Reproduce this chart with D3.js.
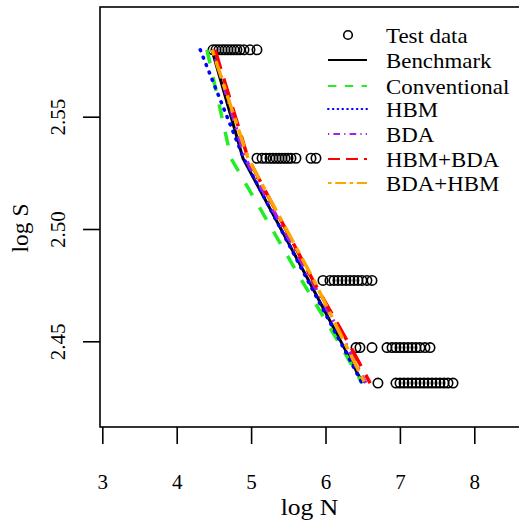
<!DOCTYPE html>
<html lang="en">
<head>
    <meta charset="UTF-8">
    <title>S-N curves</title>
    <script src="https://d3js.org/d3.v7.min.js"></script>
    <style>
        * {
            margin: 0;
            padding: 0;
            box-sizing: border-box;
        }
        body {
            background: white;
        }
        svg text {
            font-family: "Liberation Serif", "Times New Roman", Times, "DejaVu Serif", serif;
        }
    </style>
</head>
<body>
    <div id="chart"></div>
    <script>
        // stress levels (log S) of the tests
        const stressLevels = [2.5798, 2.5315, 2.4771, 2.4472, 2.4314];

        // test data: log N for each stress level
        const testRow1 = [4.488, 4.528, 4.568, 4.609, 4.649, 4.689, 4.730, 4.770, 4.810, 4.851, 4.905, 4.985, 5.079];
        const testRow2 = [5.079, 5.147, 5.200, 5.254, 5.294, 5.335, 5.375, 5.415, 5.456, 5.496, 5.536, 5.603, 5.805, 5.872];
        const testRow3 = [5.966, 6.060, 6.114, 6.167, 6.221, 6.275, 6.329, 6.382, 6.436, 6.490, 6.557, 6.625];
        const testRow4 = [6.410, 6.463, 6.625, 6.826, 6.894, 6.947, 7.001, 7.055, 7.109, 7.163, 7.216, 7.270, 7.337, 7.405];
        const testRow5 = [6.705, 6.947, 7.001, 7.055, 7.109, 7.163, 7.216, 7.270, 7.324, 7.378, 7.432, 7.485, 7.539, 7.593, 7.647, 7.714];

        // fitted curves: log N at each stress level
        const benchmark    = [4.474, 4.890, 5.773, 6.250, 6.500];
        const conventional = [4.407, 4.730, 5.680, 6.220, 6.490];
        const hbm          = [4.316, 4.900, 5.760, 6.240, 6.490];
        const bda          = [4.490, 4.920, 5.810, 6.300, 6.540];
        const hbmBda       = [4.515, 4.958, 5.832, 6.344, 6.600];
        const bdaHbm       = [4.477, 4.958, 5.845, 6.290, 6.530];

        const seriesNames = ["Benchmark", "Conventional", "HBM", "BDA", "HBM+BDA", "BDA+HBM"];
        const xTicks = [3, 4, 5, 6, 7, 8];
        const yTicks = [2.45, 2.50, 2.55];

        const series = [
            { name: seriesNames[0], values: benchmark,    color: "#000000", dash: null,          cap: "butt" },
            { name: seriesNames[1], values: conventional, color: "#22ee22", dash: [14, 14],      cap: "butt" },
            { name: seriesNames[2], values: hbm,          color: "#0000ff", dash: [1, 7],        cap: "round" },
            { name: seriesNames[3], values: bda,          color: "#a020f0", dash: [2, 7, 11, 7], cap: "butt" },
            { name: seriesNames[4], values: hbmBda,       color: "#ff0000", dash: [20, 10],      cap: "butt" },
            { name: seriesNames[5], values: bdaHbm,       color: "#ffa500", dash: [6, 6, 18, 6], cap: "butt" }
        ];

        const W = 519, H = 527;
        const box = { left: 100, top: 7, right: 522, bottom: 427 };
        const stretch = 1.09;   // text in the original is a bit wider than tall

        const svg = d3.select("#chart")
                      .append("svg")
                      .attr("width", W)
                      .attr("height", H);

        const x = d3.scaleLinear().domain([3, 8]).range([102.3, 474.3]);
        const y = d3.scaleLinear().domain([2.45, 2.55]).range([341.3, 116.7]);

        // plot frame
        svg.append("rect")
            .attr("x", box.left)
            .attr("y", box.top)
            .attr("width", box.right - box.left)
            .attr("height", box.bottom - box.top)
            .attr("fill", "none")
            .attr("stroke", "#000")
            .attr("stroke-width", 1.6);

        // x axis
        const xAxis = svg.append("g")
            .attr("transform", `translate(0, ${box.bottom})`)
            .call(d3.axisBottom(x).tickValues(xTicks).tickSize(17).tickSizeOuter(0).tickPadding(30).tickFormat(d3.format("d")));
        xAxis.select(".domain").remove();
        xAxis.selectAll("line").attr("stroke", "#000").attr("stroke-width", 1.6);
        xAxis.selectAll("text")
            .attr("font-size", 21)
            .attr("fill", "#000");

        // y axis with rotated labels
        const yAxis = svg.append("g")
            .attr("transform", `translate(${box.left}, 0)`)
            .call(d3.axisLeft(y).tickValues(yTicks).tickSize(17).tickSizeOuter(0).tickFormat(d3.format(".2f")));
        yAxis.select(".domain").remove();
        yAxis.selectAll("line").attr("stroke", "#000").attr("stroke-width", 1.6);
        yAxis.selectAll("text")
            .attr("font-size", 21)
            .attr("fill", "#000")
            .attr("x", 0)
            .attr("y", 0)
            .attr("dy", 0)
            .attr("text-anchor", "middle")
            .attr("transform", "translate(-35, 0) rotate(-90)");

        // axis titles
        svg.append("text")
            .attr("transform", `translate(${(box.left + W) / 2}, 515) scale(${stretch}, 1)`)
            .attr("text-anchor", "middle")
            .attr("font-size", 23.5)
            .text("log N");

        svg.append("text")
            .attr("transform", `translate(28, 228) rotate(-90)`)
            .attr("text-anchor", "middle")
            .attr("font-size", 23.5)
            .text("log S");

        const plot = svg.append("g");

        // test data points
        const testRows = [testRow1, testRow2, testRow3, testRow4, testRow5];
        const points = [];
        testRows.forEach((row, i) => row.forEach(n => points.push({ n: n, s: stressLevels[i] })));

        plot.selectAll(".dot")
            .data(points)
            .join("circle")
            .attr("cx", d => x(d.n))
            .attr("cy", d => y(d.s))
            .attr("r", 4.7)
            .attr("fill", "none")
            .attr("stroke", "#000")
            .attr("stroke-width", 1.6);

        // curves
        const line = d3.line()
            .x(d => x(d[0]))
            .y(d => y(d[1]));

        plot.selectAll(".curve")
            .data(series)
            .join("path")
            .attr("fill", "none")
            .attr("stroke", d => d.color)
            .attr("stroke-width", d => d.name === "Benchmark" ? 3 : 3.5)
            .attr("stroke-linecap", d => d.cap)
            .attr("stroke-dasharray", d => d.dash ? d.dash.join(",") : null)
            .attr("d", d => line(d.values.map((n, i) => [n, stressLevels[i]])));

        // legend
        const legendRows = [35, 60, 86, 109, 134, 159, 183];
        const legend = svg.append("g");

        legend.append("circle")
            .attr("cx", 348)
            .attr("cy", legendRows[0])
            .attr("r", 4.3)
            .attr("fill", "none")
            .attr("stroke", "#000")
            .attr("stroke-width", 1.6);

        legend.append("text")
            .attr("transform", `translate(386, ${legendRows[0] + 7.5}) scale(${stretch}, 1)`)
            .attr("font-size", 21)
            .text("Test data");

        series.forEach((s, i) => {
            const ly = legendRows[i + 1];
            legend.append("line")
                .attr("x1", 328)
                .attr("x2", 367)
                .attr("y1", ly)
                .attr("y2", ly)
                .attr("stroke", s.color)
                .attr("stroke-width", 2)
                .attr("stroke-linecap", s.cap)
                .attr("stroke-dasharray", s.dash ? s.dash.map(v => v * 0.6).join(",") : null);

            legend.append("text")
                .attr("transform", `translate(386, ${ly + 7.5}) scale(${stretch}, 1)`)
                .attr("font-size", 21)
                .text(s.name);
        });
    </script>
</body>
</html>
